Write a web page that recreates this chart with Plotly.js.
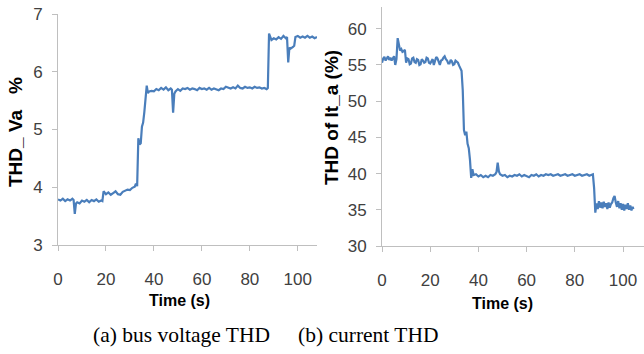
<!DOCTYPE html>
<html>
<head>
<meta charset="utf-8">
<script src="https://cdn.plot.ly/plotly-3.0.1.min.js"></script>
<style>html,body{margin:0;padding:0;background:#fff;}#chart{width:644px;height:354px;}</style>
</head>
<body>
<div id="chart"></div>
<script>
// (a) bus voltage THD
const timeA = [0,1,2,3,4,5,6,6.5,7,7.5,8,9,10,11,12,13,14,15,16,17,18,18.5,19,20,21,22,23,24,25,26,27,28,29,30,31,32,32.5,33,33.5,34,34.5,35,35.5,36,36.5,37,37.5,38,39,40,41,42,43,44,45,46,47,47.5,48,48.5,49,50,51,52,53,54,55,56,57,58,59,60,61,62,63,64,65,66,67,68,69,70,71,72,73,74,75,76,77,78,79,80,81,82,83,84,85,86,87,87.5,88,89,90,91,92,93,94,95,95.5,96,96.5,97,98,98.5,99,100,101,102,103,104,105,106,107,108];
const thdVa = [3.79,3.77,3.80,3.76,3.79,3.77,3.80,3.78,3.54,3.72,3.74,3.72,3.77,3.75,3.78,3.74,3.78,3.76,3.79,3.75,3.77,3.76,3.93,3.88,3.91,3.87,3.90,3.93,3.88,3.87,3.92,3.94,3.96,3.95,3.99,4.01,4.06,4.02,4.85,4.74,4.76,5.05,5.12,5.30,5.62,5.76,5.63,5.66,5.67,5.66,5.70,5.68,5.72,5.69,5.73,5.68,5.71,5.69,5.29,5.62,5.66,5.70,5.67,5.71,5.70,5.72,5.69,5.71,5.70,5.68,5.72,5.70,5.71,5.69,5.72,5.69,5.71,5.70,5.68,5.71,5.70,5.74,5.72,5.71,5.73,5.71,5.76,5.72,5.71,5.74,5.72,5.73,5.71,5.74,5.72,5.73,5.71,5.72,5.70,5.72,6.66,6.55,6.58,6.56,6.60,6.57,6.62,6.58,6.60,6.16,6.42,6.40,6.43,6.45,6.60,6.62,6.59,6.61,6.59,6.62,6.59,6.61,6.58,6.60];

// (b) current THD
const timeB = [0,0.5,1,1.5,2,2.5,3,3.5,4,4.5,5,5.5,6,6.5,7,7.5,8,8.5,9,9.5,10,10.5,11,11.5,12,12.5,13,13.5,14,14.5,15,15.5,16,16.5,17,17.5,18,18.5,19,19.5,20,20.5,21,21.5,22,22.5,23,23.5,24,24.5,25,25.5,26,26.5,27,27.5,28,28.5,29,29.5,30,30.5,31,31.5,32,32.5,33,33.5,34,34.5,35,35.5,36,36.5,37,37.5,38,39,40,41,42,43,44,45,46,47,47.5,48,48.5,49,50,51,52,53,54,55,56,57,58,59,60,61,62,63,64,65,66,67,68,69,70,71,72,73,74,75,76,77,78,79,80,81,82,83,84,85,86,87,87.5,88,88.5,89,89.5,90,90.5,91,91.5,92,92.5,93,93.5,94,94.5,95,95.5,96,96.5,97,97.5,98,98.5,99,99.5,100,100.5,101,101.5,102,102.5,103,103.5,104,104.3];
const thdIt = [55.3,55.9,56.1,55.6,55.9,56.2,55.7,56.0,55.6,55.9,56.2,55.0,55.8,58.7,57.6,57.0,57.2,56.8,56.9,57.1,55.3,55.9,55.8,55.1,55.2,55.9,56.0,55.4,55.3,55.8,55.7,55.0,55.1,55.8,55.6,55.3,55.4,56.0,55.9,55.3,55.2,55.6,55.8,55.0,55.5,56.1,55.9,55.4,55.0,55.6,55.7,56.0,56.2,55.8,55.6,55.2,55.2,55.7,55.5,55.0,55.1,55.6,55.4,55.3,54.9,54.4,54.2,51.5,46.0,45.3,45.8,44.1,43.5,41.9,39.4,40.6,39.8,39.9,39.6,39.8,39.5,39.7,39.5,39.8,39.7,39.9,40.2,41.5,40.3,39.9,39.7,39.8,39.5,39.7,39.6,39.8,39.7,39.9,39.6,39.8,39.7,39.5,39.8,39.7,39.9,39.6,39.8,39.7,39.9,39.8,39.9,39.7,39.8,39.9,39.7,39.8,39.9,39.7,39.8,39.9,39.7,39.8,39.9,39.7,39.8,39.9,39.7,39.8,39.9,38.0,34.6,35.9,35.1,36.2,35.3,36.0,35.2,36.1,35.4,35.9,35.1,36.0,35.3,35.8,36.0,36.6,36.9,36.0,35.4,36.2,35.2,35.9,35.0,35.8,34.9,35.7,35.1,35.9,35.0,35.6,34.9,35.4,35.1];

const xTicks = [0,20,40,60,80,100];
const yTicksA = [3,4,5,6,7];
const yTicksB = [30,35,40,45,50,55,60];

const lineColor = '#4a7ebb';
const axisGray = '#bfbfbf';
const tickFont = {family: '"Liberation Sans Narrow", "Liberation Sans", sans-serif', size: 17, color: '#404040'};
const titleFont = {family: '"Liberation Sans Narrow", "Liberation Sans", sans-serif', size: 16, color: '#000000', weight: 'bold'};
const yTitleFont = {family: '"Liberation Sans Narrow", "Liberation Sans", sans-serif', size: 19, color: '#000000', weight: 'bold'};
const captionFont = {family: '"Liberation Serif", "Times New Roman", serif', size: 21.5, color: '#000000'};

const traces = [
  {x: timeA, y: thdVa, type: 'scatter', mode: 'lines', line: {color: lineColor, width: 2.2}, xaxis: 'x', yaxis: 'y', hoverinfo: 'skip'},
  {x: timeB, y: thdIt, type: 'scatter', mode: 'lines', line: {color: lineColor, width: 2.2}, xaxis: 'x2', yaxis: 'y2', hoverinfo: 'skip'}
];

const axBase = {showline: true, linecolor: axisGray, linewidth: 1, ticks: 'outside', ticklen: 5, tickcolor: axisGray, showgrid: false, zeroline: false, tickfont: tickFont, fixedrange: true};

const layout = {
  width: 644, height: 354,
  margin: {l: 0, r: 0, t: 0, b: 0},
  paper_bgcolor: '#ffffff', plot_bgcolor: '#ffffff',
  showlegend: false,
  xaxis: Object.assign({}, axBase, {domain: [58/644, 317/644], range: [0, 108], tickvals: xTicks, anchor: 'y', ticklabelstandoff: 14}),
  yaxis: Object.assign({}, axBase, {domain: [(354-245)/354, (354-14)/354], range: [3, 7], tickvals: yTicksA, anchor: 'x', ticklabelstandoff: 6}),
  xaxis2: Object.assign({}, axBase, {domain: [382/644, 1], range: [0, 108.7], tickvals: xTicks, anchor: 'y2', ticklabelstandoff: 14}),
  yaxis2: Object.assign({}, axBase, {domain: [(354-246)/354, (354-7)/354], range: [30, 63], tickvals: yTicksB, anchor: 'x2', ticklabelstandoff: 6}),
  annotations: [
    {text: 'THD_ Va   %', xref: 'paper', yref: 'paper', x: 15/644, y: (354-132)/354, textangle: -90, showarrow: false, font: yTitleFont, xanchor: 'center', yanchor: 'middle'},
    {text: 'Time (s)', xref: 'paper', yref: 'paper', x: 180/644, y: (354-300)/354, showarrow: false, font: titleFont, xanchor: 'center', yanchor: 'middle'},
    {text: 'THD of It_a (%)', xref: 'paper', yref: 'paper', x: 331/644, y: (354-118)/354, textangle: -90, showarrow: false, font: yTitleFont, xanchor: 'center', yanchor: 'middle'},
    {text: 'Time (s)', xref: 'paper', yref: 'paper', x: 502/644, y: (354-303)/354, showarrow: false, font: titleFont, xanchor: 'center', yanchor: 'middle'},
    {text: '(a) bus voltage THD', xref: 'paper', yref: 'paper', x: 181/644, y: (354-335)/354, showarrow: false, font: captionFont, xanchor: 'center', yanchor: 'middle'},
    {text: '(b) current THD', xref: 'paper', yref: 'paper', x: 368/644, y: (354-335)/354, showarrow: false, font: captionFont, xanchor: 'center', yanchor: 'middle'}
  ]
};

Plotly.newPlot('chart', traces, layout, {staticPlot: true, displayModeBar: false});
</script>
</body>
</html>
